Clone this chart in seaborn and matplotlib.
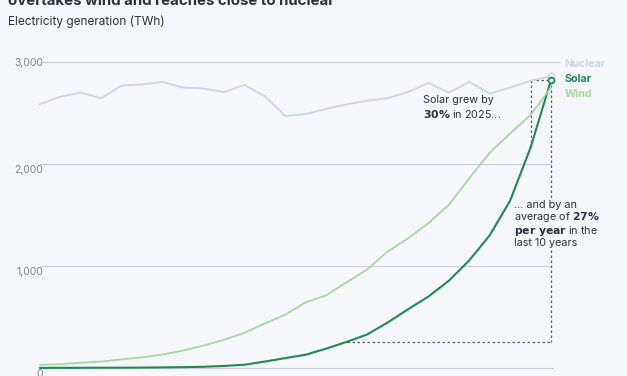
import pandas as pd
import numpy as np
import seaborn as sns
import matplotlib.pyplot as plt
import matplotlib.transforms as mtransforms

years = list(range(2000, 2026))
nuclear = [2586, 2660, 2700, 2645, 2770, 2780, 2805, 2750, 2740, 2705, 2775, 2665, 2470, 2490,
           2540, 2585, 2620, 2645, 2705, 2795, 2700, 2805, 2690, 2750, 2815, 2860]
solar = [1, 2, 2, 3, 3, 4, 6, 8, 12, 20, 32, 63, 97, 130, 190, 256, 328, 445, 575, 700,
         855, 1055, 1300, 1640, 2160, 2820]
wind = [31, 38, 52, 63, 85, 104, 133, 171, 220, 276, 345, 437, 523, 645, 712, 840, 965,
        1140, 1270, 1420, 1600, 1860, 2110, 2300, 2480, 2750]

bg = '#f5f7fb'
colors = {'Nuclear': '#c8d8e8', 'Solar': '#1f8b50', 'Wind': '#a5d89f'}
dark = '#2b313b'
grey = '#7c838f'

df = pd.DataFrame({'year': years * 3,
                   'twh': nuclear + solar + wind,
                   'source': ['Nuclear'] * 26 + ['Solar'] * 26 + ['Wind'] * 26})

sns.set_theme(style='white')
plt.rcParams['font.family'] = ['Inter', 'DejaVu Sans']

fig = plt.figure(figsize=(6.27, 3.76), dpi=100, facecolor=bg)
W, H = 627, 376
ax = fig.add_axes([40 / W, (H - 368) / H, (551 - 40) / W, (368 - 62) / H])
ax.set_facecolor(bg)

# gridlines
for v in [1000, 2000]:
    ax.plot([2000, 2025], [v, v], color='#cdd1d7', lw=0.9, zorder=1, clip_on=False)
ax.plot([2000, 2025.45], [3000, 3000], color='#cdd1d7', lw=0.9, zorder=1, clip_on=False)
ax.plot([2000, 2025.1], [0, 0], color='#cdd1d7', lw=0.9, zorder=1, clip_on=False)

sns.lineplot(data=df, x='year', y='twh', hue='source', palette=colors, ax=ax,
             legend=False, zorder=3)
for line, lw in zip(ax.lines[-3:], [1.3, 1.5, 1.3]):
    line.set_linewidth(lw)
    line.set_clip_on(False)

# end markers
ax.scatter([2025], [nuclear[-1]], s=22, facecolor=bg, edgecolor=colors['Nuclear'],
           linewidth=1.2, zorder=4, clip_on=False)
ax.scatter([2025], [solar[-1]], s=18, facecolor=bg, edgecolor=colors['Solar'],
           linewidth=1.3, zorder=5, clip_on=False)

# annotation guides
dash = dict(color='#5b616b', lw=0.9, ls=(0, (2, 2)), zorder=2, clip_on=False)
ax.plot([2024, 2025], [solar[-1], solar[-1]], **dash)
ax.plot([2024, 2024], [solar[-1], solar[-2]], **dash)
ax.plot([2025, 2025], [solar[-1], solar[15]], **dash)
ax.plot([2015, 2025], [solar[15], solar[15]], **dash)

ax.text(2018.75, 2600, 'Solar grew by', fontsize=7.8, color=dark, va='baseline')
ax.text(2018.75, 2455, r'$\bf{30\%}$ in 2025...', fontsize=7.8, color=dark, va='baseline')

ax.text(2023.2, 1650, '... and by an\naverage of $\\bf{27\\%}$\n$\\bf{per\\ year}$ in the\nlast 10 years',
        fontsize=7.8, color=dark, va='top', ha='left', linespacing=1.0,
        bbox=dict(facecolor=bg, edgecolor='none', pad=1))

# labels at right
ax.text(2025.65, 2985, 'Nuclear', color=colors['Nuclear'], fontsize=7.8, fontweight='bold', va='center')
ax.text(2025.65, 2835, 'Solar', color=colors['Solar'], fontsize=7.8, fontweight='bold', va='center')
ax.text(2025.65, 2685, 'Wind', color=colors['Wind'], fontsize=7.8, fontweight='bold', va='center')

ax.set_xlim(2000, 2025)
ax.set_ylim(0, 3000)
ax.set_yticks([0, 1000, 2000, 3000])
ax.set_yticklabels(['0', '1,000', '2,000', '3,000'])
ax.tick_params(axis='y', length=0, pad=-2, labelsize=7.5, labelcolor=grey)
for lab, dy in zip(ax.get_yticklabels(), [-5, -5, -5, 0]):
    lab.set_transform(lab.get_transform() + mtransforms.ScaledTranslation(0, dy / 100, fig.dpi_scale_trans))
ax.set_xticks([2005, 2010, 2015, 2020, 2025])
ax.tick_params(axis='x', length=3, width=0.8, color='#cdd1d7', direction='out', labelsize=7,
               labelcolor=grey, labelbottom=False)
ax.set_xlabel('')
ax.set_ylabel('')
for s in ax.spines.values():
    s.set_visible(False)

fig.text(8 / W, 1 - 5 / H, 'overtakes wind and reaches close to nuclear', fontsize=10.8,
         fontweight='bold', color=dark, va='baseline', ha='left')
fig.text(8 / W, 1 - 22 / H, 'Electricity generation (TWh)', fontsize=8.5, color=dark,
         va='center', ha='left')

fig.savefig('out.png', dpi=100, facecolor=bg)
